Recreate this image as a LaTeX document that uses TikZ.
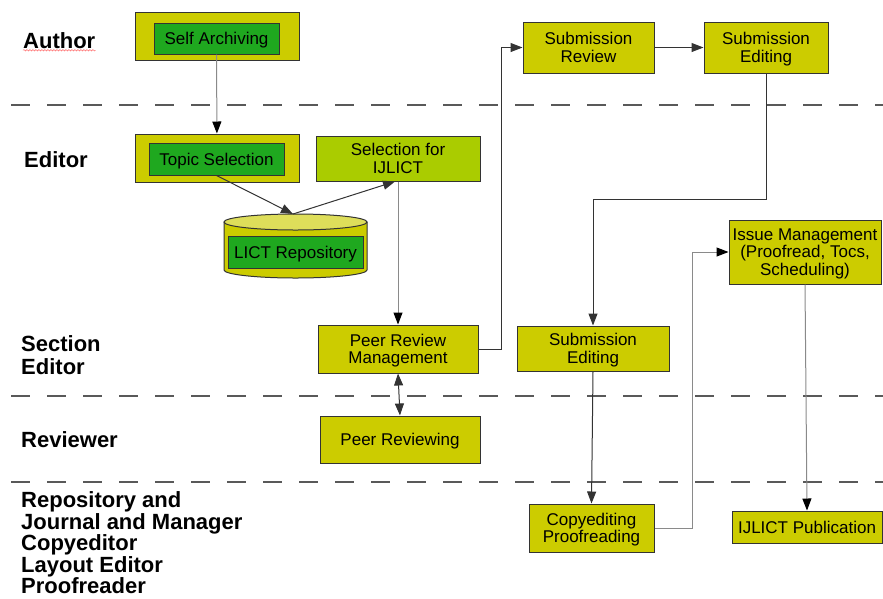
\documentclass[tikz,border=0pt]{standalone}
\usepackage{fontspec}
\setmainfont{Liberation Sans}
\usetikzlibrary{arrows.meta,decorations.pathmorphing}

\definecolor{boxyellow}{HTML}{CCCC00}
\definecolor{boxgreen}{HTML}{1FA81F}
\definecolor{boxlime}{HTML}{AACC00}
\definecolor{cyltop}{HTML}{DEDE5A}
\definecolor{edgegray}{HTML}{333333}
\definecolor{linegray}{HTML}{8A8A8A}

\tikzset{
  task/.style={draw=edgegray, line width=1pt, fill=boxyellow, inner sep=0pt,
    text depth=0pt, align=center, font=\fontsize{17}{17.5}\selectfont},
  greentask/.style={task, fill=boxgreen},
  limetask/.style={task, fill=boxlime},
  lane/.style={draw=black!65, line width=1.2pt, dash pattern=on 19pt off 17pt},
  role/.style={anchor=west, align=left, inner sep=0pt,
    font=\fontsize{22}{20}\selectfont\bfseries},
  flow/.style={draw=edgegray, line width=1pt, -{Triangle[length=12pt,width=9pt]}},
  flowgray/.style={draw=linegray, line width=1pt,
    -{Triangle[length=12pt,width=9pt,color=black]}},
  squiggle/.style={draw=red!60, line width=0.5pt, decorate,
    decoration={snake, amplitude=0.7pt, segment length=3pt}},
}

\begin{document}
\begin{tikzpicture}[x=1pt, y=-1pt]
  \useasboundingbox (0,0) rectangle (883,598);

  % swim lanes
  \draw[lane] (11,105) -- (883,105);
  \draw[lane] (11,396) -- (883,396);
  \draw[lane] (11,482) -- (883,482);

  % roles
  \node[role] (author) at (23,40.5) {Author};
  \draw[squiggle] ([yshift=-1.5pt]author.south west) -- ([yshift=-1.5pt]author.south east);
  \node[role] (editor) at (24,160) {Editor};
  \node[role, font=\fontsize{22}{23}\selectfont\bfseries] (sectioned) at (21,355) {Section\\Editor};
  \node[role] (reviewer) at (21,440) {Reviewer};
  \node[role] (staff) at (21,543) {Repository and\\Journal and Manager\\Copyeditor\\Layout Editor\\Proofreader};

  % editor side
  \node[task, minimum width=164, minimum height=48] (selfbox) at (217,36) {};
  \node[greentask, minimum width=125, minimum height=31] (selfarch) at (216.5,38.5) {Self Archiving};
  \node[task, minimum width=164, minimum height=48] (topicbox) at (217,158) {};
  \node[greentask, minimum width=135, minimum height=32] (topicsel) at (216.5,159) {Topic Selection};
  \node[limetask, minimum width=164, minimum height=45] (ijlictsel) at (398,158.5) {Selection for\\IJLICT};

  % repository
  \filldraw[draw=edgegray, line width=1pt, fill=boxyellow]
    (224,222) -- (224,270) arc[start angle=180, end angle=0, x radius=71.5, y radius=8]
    -- (367,222) -- cycle;
  \filldraw[draw=edgegray, line width=1pt, fill=cyltop] (295.5,222) ellipse [x radius=71.5, y radius=8];
  \coordinate (repotop) at (293,214);
  \node[greentask, minimum width=135, minimum height=32] (repo) at (295.5,252) {LICT Repository};

  % review and editing
  \node[task, minimum width=160, minimum height=48] (peermgmt) at (398,349) {Peer Review\\Management};
  \node[task, minimum width=160, minimum height=47] (peerrev) at (400,439.5) {Peer Reviewing};
  \node[task, minimum width=131, minimum height=51] (subreview) at (588.5,47.5) {Submission\\Review};
  \node[task, minimum width=124, minimum height=51] (subedit) at (766,47.5) {Submission\\Editing};
  \node[task, minimum width=152, minimum height=45] (subedittwo) at (593,348.5) {Submission\\Editing};
  \node[task, minimum width=125, minimum height=48] (copyedit) at (591.5,528) {Copyediting\\Proofreading};
  \node[task, minimum width=152, minimum height=64] (issuemgmt) at (805,252) {Issue Management\\(Proofread, Tocs,\\Scheduling)};
  \node[task, minimum width=150, minimum height=32] (publication) at (807,527) {IJLICT Publication};

  % connectors
  \draw[flowgray] (selfarch) -- (topicbox);
  \draw[flow] (topicsel.south) -- (repotop);
  \draw[flow] (repotop) -- ([xshift=-3pt]ijlictsel.south);
  \draw[flowgray] (ijlictsel) -- (peermgmt);
  \draw[flow, {Triangle[length=12pt,width=9pt]}-{Triangle[length=12pt,width=9pt]}] (peermgmt.south) -- (peerrev.north);
  \draw[flow] (peermgmt.east) -- ++(23,0) |- (subreview.west);
  \draw[flow] (subreview) -- (subedit);
  \draw[flow] (subedit.south) -- ++(0,126) -| (subedittwo.north);
  \draw[flow] (subedittwo.south) -- (copyedit.north);
  \draw[flowgray] (copyedit.east) -- ++(38,0) |- (issuemgmt.west);
  \draw[flowgray] (issuemgmt.south) -- (publication.north);
\end{tikzpicture}
\end{document}
